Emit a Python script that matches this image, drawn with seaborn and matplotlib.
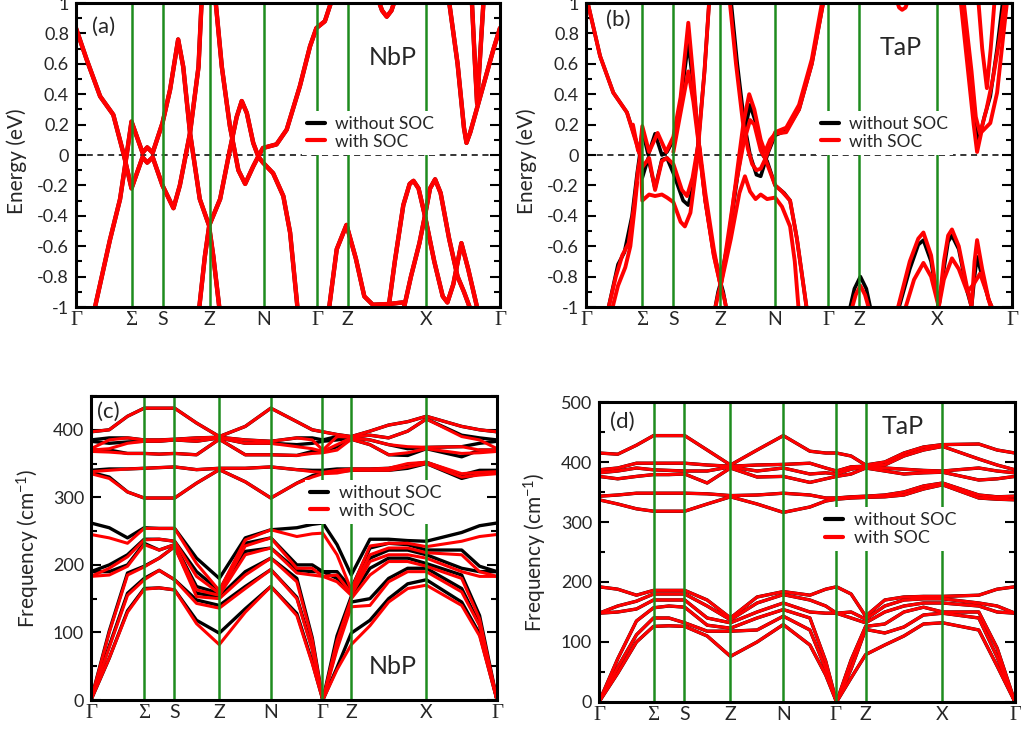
import numpy as np
import pandas as pd
import matplotlib
matplotlib.use("Agg")
import matplotlib.pyplot as plt
import seaborn as sns
from matplotlib.lines import Line2D
from matplotlib.ticker import MultipleLocator

sns.set_theme(style="white")
plt.rcParams["font.family"] = ["Lato", "DejaVu Sans"]
plt.rcParams["axes.unicode_minus"] = False
plt.rcParams["mathtext.fontset"] = "custom"
plt.rcParams["mathtext.rm"] = "Lato"
plt.rcParams["mathtext.it"] = "Lato"

# ---------------- path ----------------
k_points = [0, 0.131, 0.205, 0.315, 0.443, 0.569, 0.641, 0.825, 1.0]
k_labels = ["Γ", "Σ", "S", "Z", "N", "Γ", "Z", "X", "Γ"]

# ---------------- (a) NbP electronic bands, (k, E) knots ----------------
nbp_e1 = [(0.041, -1.05), (0.080, -0.56), (0.104, -0.29), (0.119, -0.01), (0.131, 0.22), (0.157, 0.015),
          (0.168, 0.05), (0.181, 0.015), (0.204, 0.21), (0.222, 0.43), (0.241, 0.76), (0.253, 0.58),
          (0.269, 0.145), (0.292, -0.29), (0.314, -0.465), (0.34, -0.29), (0.363, 0.035), (0.379, 0.25),
          (0.391, 0.355), (0.403, 0.276), (0.418, 0.08), (0.43, -0.01), (0.441, -0.05), (0.465, -0.12),
          (0.489, -0.27), (0.505, -0.51), (0.524, -1.05)]
nbp_e2 = [(0, 0.835), (0.025, 0.63), (0.057, 0.386), (0.088, 0.265), (0.113, 0.0), (0.131, -0.22),
          (0.157, -0.015), (0.168, -0.05), (0.181, -0.015), (0.204, -0.2), (0.23, -0.35), (0.245, -0.2),
          (0.269, 0.145), (0.289, 0.58), (0.297, 1.05)]
nbp_e3 = [(0.328, 1.05), (0.344, 0.58), (0.363, 0.19), (0.383, -0.1), (0.399, -0.19), (0.418, -0.075),
          (0.43, -0.01), (0.441, 0.046), (0.473, 0.07), (0.497, 0.167), (0.528, 0.452), (0.552, 0.715),
          (0.567, 0.835), (0.587, 0.88), (0.607, 1.05)]
nbp_e4 = [(0.289, -1.05), (0.304, -0.667), (0.314, -0.47), (0.324, -0.667), (0.34, -1.05)]
nbp_e5 = [(0.595, -1.05), (0.615, -0.62), (0.638, -0.46), (0.66, -0.68), (0.68, -0.93), (0.70, -0.985),
          (0.74, -0.98), (0.77, -0.97)]
nbp_e6 = [(0.735, -1.05), (0.752, -0.7), (0.772, -0.33), (0.787, -0.19), (0.796, -0.17), (0.808, -0.22),
          (0.823, -0.40), (0.845, -0.70), (0.865, -0.93), (0.876, -0.97), (0.89, -0.85), (0.909, -0.58),
          (0.925, -0.75), (0.95, -1.05)]
nbp_e7 = [(0.77, -1.05), (0.79, -0.8), (0.81, -0.58), (0.823, -0.40), (0.835, -0.22), (0.847, -0.16),
          (0.86, -0.25), (0.88, -0.55), (0.90, -0.8), (0.915, -0.9), (0.935, -1.05)]
nbp_e8 = [(0.878, 1.05), (0.90, 0.6), (0.915, 0.18), (0.921, 0.08), (0.93, 0.15), (0.96, 0.45),
          (0.985, 0.7), (1.0, 0.835)]
nbp_e9 = [(0.933, 1.05), (0.941, 0.6), (0.946, 0.34), (0.952, 0.6), (0.962, 1.05)]
nbp_e10 = [(0.709, 1.05), (0.722, 0.95), (0.733, 0.91), (0.744, 0.95), (0.756, 1.05)]

# ---------------- (b) TaP electronic bands ----------------
tap_e_nosoc1 = [(0, 1.05), (0.033, 0.65), (0.064, 0.41), (0.096, 0.28), (0.119, 0.08), (0.126, 0.0),
                (0.132, -0.15), (0.146, -0.02), (0.162, -0.22), (0.178, -0.03), (0.19, -0.02), (0.205, -0.12),
                (0.228, -0.30), (0.240, -0.33), (0.252, -0.2), (0.264, 0.1), (0.278, 0.55), (0.29, 1.05)]
tap_e_nosoc2 = [(0.049, -1.05), (0.075, -0.72), (0.09, -0.64), (0.108, -0.4), (0.12, -0.12), (0.126, 0.0),
                (0.132, 0.17), (0.146, 0.0), (0.162, 0.14), (0.178, 0.0), (0.19, 0.02), (0.205, 0.1),
                (0.222, 0.35), (0.240, 0.74), (0.252, 0.45), (0.264, 0.1), (0.28, -0.3), (0.30, -0.65),
                (0.316, -0.82), (0.335, -0.55), (0.355, -0.15), (0.37, 0.12), (0.385, 0.33), (0.40, 0.2),
                (0.415, 0.0), (0.425, -0.04), (0.444, -0.2), (0.465, -0.25), (0.479, -0.3), (0.495, -0.55),
                (0.52, -1.05)]
tap_e_nosoc3 = [(0.339, 1.05), (0.355, 0.6), (0.372, 0.2), (0.385, 0.0), (0.40, -0.13), (0.41, -0.14),
                (0.42, -0.05), (0.428, 0.02), (0.444, 0.13), (0.47, 0.16), (0.50, 0.3), (0.53, 0.6),
                (0.56, 1.05)]
tap_e_nosoc4 = [(0.30, -1.05), (0.31, -0.9), (0.316, -0.84), (0.322, -0.9), (0.332, -1.05)]
tap_e_nosoc5 = [(0.616, -1.05), (0.63, -0.88), (0.644, -0.80), (0.658, -0.88), (0.671, -1.05)]
tap_e_nosoc6 = [(0.73, -1.05), (0.76, -0.75), (0.78, -0.59), (0.792, -0.56), (0.81, -0.7), (0.828, -1.0),
                (0.84, -0.75), (0.85, -0.57), (0.859, -0.53), (0.875, -0.62), (0.895, -0.9), (0.905, -1.0),
                (0.912, -0.8), (0.918, -0.67), (0.93, -0.8), (0.945, -0.95), (0.96, -1.05)]
tap_e_nosoc7 = [(0.88, 1.05), (0.905, 0.5), (0.918, 0.12), (0.922, 0.1), (0.935, 0.25), (0.949, 0.386),
                (0.965, 0.7), (0.98, 1.05)]

tap_e_soc1 = [(0, 1.05), (0.033, 0.65), (0.064, 0.41), (0.096, 0.28), (0.119, 0.07), (0.126, 0.01),
              (0.132, 0.19), (0.148, 0.02), (0.168, 0.145), (0.188, 0.02), (0.205, 0.12), (0.222, 0.38),
              (0.240, 0.87), (0.252, 0.5), (0.264, 0.08), (0.28, -0.3), (0.30, -0.66), (0.316, -0.86),
              (0.335, -0.55), (0.355, -0.1), (0.37, 0.22), (0.383, 0.4), (0.395, 0.3), (0.41, 0.1),
              (0.42, 0.02), (0.432, 0.1), (0.444, 0.14), (0.47, 0.15), (0.50, 0.3), (0.53, 0.6), (0.56, 1.05)]
tap_e_soc2 = [(0.049, -1.05), (0.07, -0.8), (0.085, -0.66), (0.10, -0.58), (0.112, -0.35), (0.122, -0.1),
              (0.128, 0.0), (0.132, -0.08), (0.148, -0.02), (0.162, -0.23), (0.178, -0.04), (0.19, -0.02),
              (0.205, -0.06), (0.225, -0.23), (0.237, -0.27), (0.25, -0.15), (0.264, 0.08), (0.278, 0.55),
              (0.29, 1.05)]
tap_e_soc3 = [(0.110, 0.2), (0.122, 0.03), (0.128, 0.0), (0.132, -0.30), (0.148, -0.26), (0.162, -0.27),
              (0.178, -0.26), (0.19, -0.28), (0.205, -0.31), (0.222, -0.44), (0.232, -0.47), (0.245, -0.38),
              (0.258, -0.1), (0.266, 0.06), (0.28, -0.25), (0.30, -0.62), (0.316, -0.86), (0.325, -0.95),
              (0.332, -1.05)]
tap_e_soc4 = [(0.205, 0.02), (0.22, 0.25), (0.240, 0.55), (0.252, 0.35), (0.264, 0.08), (0.28, -0.3),
              (0.30, -0.66), (0.316, -0.86), (0.33, -0.6), (0.35, -0.22), (0.37, 0.08), (0.385, 0.23),
              (0.395, 0.2), (0.41, 0.03), (0.42, -0.02), (0.444, -0.2), (0.46, -0.24), (0.479, -0.30),
              (0.495, -0.55), (0.51, -0.85), (0.52, -1.05)]
tap_e_soc5 = [(0.30, -1.05), (0.31, -0.92), (0.316, -0.86), (0.34, -0.55), (0.36, -0.25), (0.373, -0.14),
              (0.385, -0.24), (0.398, -0.29), (0.41, -0.26), (0.425, -0.29), (0.444, -0.28), (0.46, -0.34),
              (0.479, -0.47), (0.49, -0.7), (0.50, -1.05)]
tap_e_soc6 = [(0.058, -1.05), (0.075, -0.86), (0.092, -0.74), (0.104, -0.6), (0.114, -0.35), (0.12, -0.18)]
tap_e_soc7 = [(0.62, -1.05), (0.633, -0.92), (0.644, -0.86), (0.655, -0.92), (0.668, -1.05)]
tap_e_soc8 = [(0.728, -1.05), (0.76, -0.7), (0.78, -0.55), (0.792, -0.51), (0.81, -0.66), (0.828, -1.0),
              (0.84, -0.7), (0.85, -0.53), (0.859, -0.49), (0.875, -0.6), (0.895, -0.88), (0.905, -1.0),
              (0.912, -0.7), (0.918, -0.56), (0.93, -0.75), (0.945, -0.95), (0.96, -1.05)]
tap_e_soc9 = [(0.745, -1.05), (0.77, -0.82), (0.792, -0.71), (0.81, -0.8), (0.828, -1.0), (0.84, -0.82),
              (0.859, -0.68), (0.875, -0.75), (0.895, -0.9), (0.91, -0.85), (0.925, -0.78), (0.94, -0.9),
              (0.955, -1.05)]
tap_e_soc10 = [(0.878, 1.05), (0.895, 0.6), (0.91, 0.2), (0.918, 0.02), (0.928, 0.15), (0.949, 0.21),
               (0.965, 0.41), (0.98, 0.8), (0.99, 1.05)]
tap_e_soc11 = [(0.92, 1.05), (0.93, 0.7), (0.941, 0.44), (0.95, 0.7), (0.96, 1.05)]
tap_e_soc12 = [(0.725, 1.05), (0.735, 0.97), (0.742, 0.955), (0.75, 0.97), (0.76, 1.05)]
tap_e_soc13 = [(0.336, 1.05), (0.352, 0.6), (0.368, 0.22), (0.38, 0.04), (0.39, -0.06), (0.40, -0.1),
               (0.41, -0.09), (0.42, -0.03), (0.428, 0.03), (0.444, 0.15), (0.47, 0.18), (0.50, 0.33),
               (0.53, 0.63), (0.557, 1.05)]
tap_e_soc14 = [(0.885, 1.05), (0.905, 0.55), (0.915, 0.25), (0.925, 0.14), (0.94, 0.3), (0.955, 0.5),
               (0.97, 0.75), (0.985, 1.05)]

# ---------------- phonons: k grid, one list of frequencies per k point ----------------
k_ph = [0, 0.045, 0.09, 0.131, 0.168, 0.206, 0.26, 0.316, 0.38, 0.443, 0.507, 0.545,
        0.571, 0.606, 0.641, 0.687, 0.733, 0.78, 0.826, 0.913, 0.957, 1.0]

nbp_ph_low_soc = [[0, 0, 0, 183, 183, 245], [62, 78, 100, 185, 195, 240], [130, 155, 185, 198, 212, 232],
                  [164, 178, 197, 230, 237, 254], [166, 192, 210, 222, 238, 254], [163, 178, 227, 230, 235, 254],
                  [113, 143, 153, 163, 183, 202], [82, 136, 150, 155, 158, 162], [130, 165, 185, 215, 228, 237],
                  [168, 193, 210, 225, 240, 252], [125, 150, 175, 188, 195, 242], [54, 74, 89, 185, 195, 246],
                  [0, 0, 0, 183, 183, 247], [45, 75, 88, 175, 185, 215], [82, 138, 150, 155, 158, 163],
                  [110, 140, 185, 205, 215, 228], [145, 175, 205, 215, 225, 232], [165, 190, 205, 215, 225, 232],
                  [170, 190, 198, 210, 218, 227], [140, 160, 180, 190, 215, 235], [95, 110, 120, 183, 190, 242],
                  [0, 0, 0, 183, 183, 245]]
nbp_ph_low_nosoc = [[0, 0, 0, 190, 190, 262], [62, 80, 102, 190, 200, 255], [132, 158, 188, 200, 215, 240],
                    [165, 180, 198, 232, 238, 255], [166, 192, 210, 222, 238, 254], [163, 178, 227, 230, 235, 254],
                    [118, 148, 158, 168, 190, 210], [99, 140, 153, 158, 162, 180], [135, 168, 190, 220, 232, 240],
                    [168, 193, 210, 225, 240, 252], [128, 152, 180, 192, 200, 255], [56, 76, 92, 190, 200, 260],
                    [0, 0, 0, 190, 190, 262], [48, 80, 95, 180, 190, 230], [99, 145, 153, 160, 165, 185],
                    [118, 150, 195, 210, 225, 238], [150, 180, 210, 222, 232, 238], [172, 195, 210, 222, 230, 236],
                    [178, 195, 202, 215, 222, 235], [145, 165, 185, 195, 222, 248], [98, 112, 125, 190, 198, 258],
                    [0, 0, 0, 190, 190, 262]]
nbp_ph_up_soc = [[335, 338, 368, 370, 372, 397], [328, 340, 367, 372, 385, 400], [308, 342, 365, 380, 388, 420],
                 [299, 343, 365, 383, 385, 432], [299, 344, 364, 383, 385, 432], [299, 345, 365, 385, 386, 432],
                 [321, 341, 363, 383, 388, 410], [341, 343, 386, 388, 389, 390], [323, 343, 363, 380, 385, 405],
                 [299, 345, 363, 380, 383, 432], [321, 341, 362, 375, 388, 412], [330, 338, 365, 372, 385, 400],
                 [335, 337, 366, 368, 370, 397], [336, 340, 370, 378, 390, 393], [340, 342, 386, 388, 389, 390],
                 [340, 342, 378, 385, 392, 398], [340, 343, 363, 378, 388, 407], [345, 350, 366, 375, 398, 412],
                 [350, 352, 372, 374, 416, 420], [330, 335, 365, 375, 390, 405], [333, 337, 366, 370, 385, 400],
                 [335, 338, 368, 370, 372, 397]]
nbp_ph_up_nosoc = [[337, 340, 370, 383, 385, 397], [330, 342, 370, 380, 388, 400], [308, 342, 365, 382, 388, 420],
                   [299, 343, 365, 383, 385, 432], [299, 344, 364, 383, 385, 432], [299, 345, 365, 385, 386, 432],
                   [321, 341, 363, 383, 388, 410], [341, 343, 386, 388, 389, 390], [323, 343, 363, 380, 385, 405],
                   [299, 345, 363, 380, 383, 432], [321, 341, 362, 378, 388, 412], [332, 340, 368, 380, 388, 400],
                   [337, 340, 368, 383, 385, 397], [338, 342, 375, 385, 390, 393], [340, 342, 386, 388, 389, 390],
                   [340, 342, 378, 385, 392, 398], [340, 343, 363, 378, 388, 407], [343, 348, 362, 372, 398, 412],
                   [350, 352, 372, 374, 416, 420], [328, 333, 360, 375, 392, 405], [335, 340, 370, 380, 388, 400],
                   [337, 340, 370, 383, 385, 397]]

tap_ph_low = [[0, 0, 0, 148, 148, 192], [48, 58, 72, 150, 160, 188], [100, 112, 135, 155, 168, 178],
              [126, 140, 157, 170, 180, 186], [127, 140, 160, 170, 180, 186], [126, 132, 158, 170, 180, 186],
              [110, 118, 128, 140, 160, 170], [76, 118, 123, 132, 137, 140], [100, 120, 140, 150, 165, 175],
              [129, 143, 154, 165, 179, 184], [95, 120, 140, 150, 170, 178], [45, 55, 68, 148, 160, 188],
              [0, 0, 0, 148, 148, 192], [40, 55, 70, 140, 150, 180], [79, 121, 126, 132, 138, 143],
              [95, 115, 130, 150, 160, 170], [110, 125, 150, 160, 170, 175], [130, 145, 158, 165, 172, 176],
              [132, 148, 150, 165, 172, 176], [120, 140, 150, 160, 165, 178], [60, 75, 90, 150, 160, 188],
              [0, 0, 0, 148, 148, 192]]
tap_ph_up = [[337, 343, 376, 382, 387, 415], [330, 345, 372, 385, 390, 413], [322, 348, 376, 390, 398, 428],
             [318, 348, 379, 387, 398, 444], [318, 348, 379, 386, 398, 444], [318, 348, 380, 385, 398, 444],
             [330, 347, 365, 385, 395, 420], [342, 344, 390, 392, 393, 395], [330, 345, 375, 385, 395, 420],
             [316, 348, 376, 390, 396, 444], [325, 345, 366, 380, 398, 418], [335, 340, 372, 382, 390, 415],
             [338, 340, 376, 380, 385, 415], [340, 342, 380, 388, 392, 410], [341, 343, 390, 392, 393, 395],
             [342, 345, 385, 390, 395, 400], [345, 350, 380, 388, 410, 415], [355, 360, 382, 386, 420, 425],
             [362, 365, 383, 385, 426, 429], [340, 345, 370, 390, 405, 430], [338, 342, 372, 385, 395, 420],
             [337, 343, 376, 382, 387, 415]]

GREEN = "#1e8c1e"
RED = "#ff0000"


def knots_df(bands):
    rows = []
    for i, b in enumerate(bands):
        for j, (k, e) in enumerate(b):
            rows.append((i, j, k, e))
    return pd.DataFrame(rows, columns=["band", "order", "k", "E"])


def grid_df(k, *groups):
    rows = []
    n = 0
    for g in groups:
        arr = np.array(g, dtype=float)
        for b in range(arr.shape[1]):
            for j, kk in enumerate(k):
                rows.append((n, j, kk, arr[j, b]))
            n += 1
    return pd.DataFrame(rows, columns=["band", "order", "k", "E"])


def draw(ax, df, color, lw):
    sns.lineplot(data=df, x="k", y="E", units="band", estimator=None, sort=False,
                 color=color, lw=lw, ax=ax, legend=False, zorder=2,
                 solid_capstyle="round", solid_joinstyle="round")


def style(ax, ylim, major, minor, ticklabels=None):
    ax.set_xlim(0, 1)
    ax.set_ylim(*ylim)
    for kp in k_points[1:-1]:
        ax.axvline(kp, color=GREEN, lw=1.8, zorder=3)
    ax.set_xticks(k_points)
    ax.set_xticklabels(k_labels)
    for lab, txt in zip(ax.get_xticklabels(), k_labels):
        if txt in ("Γ", "Σ"):
            lab.set_fontfamily(["Liberation Serif", "DejaVu Serif"])
            lab.set_fontsize(15)
        else:
            lab.set_fontsize(14)
    ax.tick_params(axis="x", length=0, pad=3)
    ax.yaxis.set_major_locator(MultipleLocator(major))
    ax.yaxis.set_minor_locator(MultipleLocator(minor))
    if ticklabels is not None:
        ax.set_yticks(ticklabels[0])
        ax.set_yticklabels(ticklabels[1])
    ax.tick_params(axis="y", which="both", direction="in", left=True, right=True,
                   labelsize=13, pad=5, width=1.5, color="black")
    ax.tick_params(axis="y", which="major", length=7)
    ax.tick_params(axis="y", which="minor", length=4)
    for s in ax.spines.values():
        s.set_color("black")
        s.set_linewidth(2.2)
        s.set_zorder(5)
    ax.set_xlabel("")


def add_legend(ax, x, y, fs=12.5):
    h = [Line2D([], [], color="black", lw=3), Line2D([], [], color=RED, lw=3)]
    leg = ax.legend(h, ["without SOC", "with SOC"], loc="upper left", bbox_to_anchor=(x, y),
                    borderaxespad=0, frameon=True, fancybox=False, facecolor="white",
                    edgecolor="none", framealpha=1, fontsize=fs, handlelength=1.0,
                    handletextpad=0.6, labelspacing=0.08, borderpad=0.3)
    leg.set_zorder(6)


fig = plt.figure(figsize=(10.21, 7.32), dpi=100)
ax_a = fig.add_axes([0.0744, 0.5806, 0.4153, 0.4153])
ax_b = fig.add_axes([0.574, 0.5806, 0.4172, 0.4153])
ax_c = fig.add_axes([0.0891, 0.0437, 0.3977, 0.4153])
ax_d = fig.add_axes([0.5867, 0.041, 0.4074, 0.4098])

e_ticks = ([-1, -0.8, -0.6, -0.4, -0.2, 0, 0.2, 0.4, 0.6, 0.8, 1],
           ["-1", "-0.8", "-0.6", "-0.4", "-0.2", "0", "0.2", "0.4", "0.6", "0.8", "1"])

# (a)
nbp_e = [nbp_e1, nbp_e2, nbp_e3, nbp_e4, nbp_e5, nbp_e6, nbp_e7, nbp_e8, nbp_e9, nbp_e10]
ax_a.axhline(0, color="black", lw=1.1, ls=(0, (4, 3)), zorder=1.5)
draw(ax_a, knots_df(nbp_e), "black", 3.0)
draw(ax_a, knots_df(nbp_e), RED, 3.2)
style(ax_a, (-1, 1), 0.2, 0.1, e_ticks)
ax_a.set_ylabel("Energy (eV)", fontsize=15)
ax_a.yaxis.set_label_coords(-0.115, 0.48)
add_legend(ax_a, 0.533, 0.645)
ax_a.text(0.064, 0.921, "(a)", transform=ax_a.transAxes, ha="center", va="center", fontsize=16)
ax_a.text(0.748, 0.822, "NbP", transform=ax_a.transAxes, ha="center", va="center", fontsize=18)

# (b)
tap_e_nosoc = [tap_e_nosoc1, tap_e_nosoc2, tap_e_nosoc3, tap_e_nosoc4, tap_e_nosoc5, tap_e_nosoc6, tap_e_nosoc7]
tap_e_soc = [tap_e_soc1, tap_e_soc2, tap_e_soc3, tap_e_soc4, tap_e_soc5, tap_e_soc6, tap_e_soc7,
             tap_e_soc8, tap_e_soc9, tap_e_soc10, tap_e_soc11, tap_e_soc12, tap_e_soc13, tap_e_soc14]
ax_b.axhline(0, color="black", lw=1.1, ls=(0, (4, 3)), zorder=1.5)
draw(ax_b, knots_df(tap_e_nosoc), "black", 2.6)
draw(ax_b, knots_df(tap_e_soc), RED, 2.8)
style(ax_b, (-1, 1), 0.2, 0.1, e_ticks)
ax_b.set_ylabel("Energy (eV)", fontsize=15)
ax_b.yaxis.set_label_coords(-0.115, 0.48)
add_legend(ax_b, 0.54, 0.645)
ax_b.text(0.075, 0.944, "(b)", transform=ax_b.transAxes, ha="center", va="center", fontsize=16)
ax_b.text(0.739, 0.855, "TaP", transform=ax_b.transAxes, ha="center", va="center", fontsize=18)

# (c)
draw(ax_c, grid_df(k_ph, nbp_ph_low_nosoc, nbp_ph_up_nosoc), "black", 2.4)
draw(ax_c, grid_df(k_ph, nbp_ph_low_soc, nbp_ph_up_soc), RED, 2.2)
style(ax_c, (0, 450), 100, 50)
ax_c.set_ylabel("Frequency (cm$^{-1}$)", fontsize=15)
ax_c.yaxis.set_label_coords(-0.12, 0.5)
add_legend(ax_c, 0.527, 0.724, fs=13)
ax_c.text(0.042, 0.947, "(c)", transform=ax_c.transAxes, ha="center", va="center", fontsize=16)
ax_c.text(0.744, 0.109, "NbP", transform=ax_c.transAxes, ha="center", va="center", fontsize=18)

# (d)
draw(ax_d, grid_df(k_ph, tap_ph_low, tap_ph_up), "black", 2.4)
draw(ax_d, grid_df(k_ph, tap_ph_low, tap_ph_up), RED, 2.2)
style(ax_d, (0, 500), 100, 50)
ax_d.set_ylabel("Frequency (cm$^{-1}$)", fontsize=15)
ax_d.yaxis.set_label_coords(-0.12, 0.5)
add_legend(ax_d, 0.531, 0.65, fs=13)
ax_d.text(0.055, 0.933, "(d)", transform=ax_d.transAxes, ha="center", va="center", fontsize=16)
ax_d.text(0.731, 0.917, "TaP", transform=ax_d.transAxes, ha="center", va="center", fontsize=18)

fig.savefig("out.png", dpi=100)
